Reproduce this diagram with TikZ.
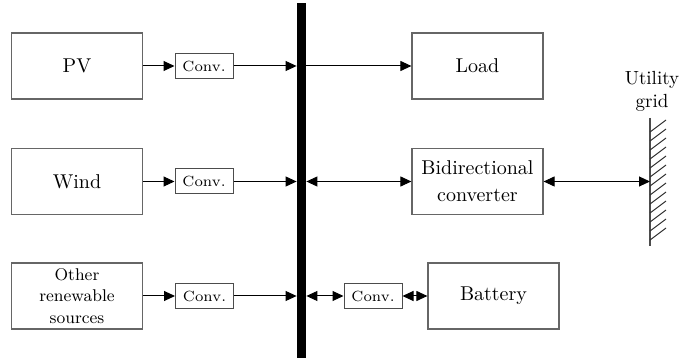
\documentclass[tikz,border=0pt]{standalone}
\usetikzlibrary{arrows.meta}

\tikzset{
    blockbox/.style={draw=black!60, line width=0.6pt, minimum width=65.5pt, minimum height=33pt,
        inner sep=0pt, align=center, font=\fontsize{10}{13.5}\selectfont},
    convbox/.style={draw=black!70, line width=0.5pt, minimum width=29pt, minimum height=12.5pt,
        inner sep=0pt, font=\fontsize{7.4}{9}\selectfont},
    flow/.style={line width=0.5pt, -{Triangle[length=5.5pt,width=5pt]}},
    biflow/.style={line width=0.5pt, {Triangle[length=5.5pt,width=5pt]}-{Triangle[length=5.5pt,width=5pt]}},
}

\begin{document}
\begin{tikzpicture}[x=0.5pt, y=-0.5pt]
        \useasboundingbox (0,0) rectangle (680,363);

        % DC bus
        \node[fill=black, minimum width=4.5pt, minimum height=177.5pt, inner sep=0pt] (bus) at (301.5,180.5) {};

        % Sources
        \node[blockbox] (pv) at (77,66) {PV};
        \node[blockbox] (wind) at (77,181.5) {Wind};
        \node[blockbox, font=\fontsize{8.5}{10.8}\selectfont] (other) at (77,296) {Other\\renewable\\sources};

        % Converters
        \node[convbox] (conv1) at (204,66) {Conv.};
        \node[convbox] (conv2) at (204,181.5) {Conv.};
        \node[convbox] (conv3) at (204.5,296) {Conv.};
        \node[convbox] (conv4) at (373,296) {Conv.};

        % Loads and storage
        \node[blockbox] (load) at (477.5,66) {Load};
        \node[blockbox] (bidir) at (477.5,181.5) {Bidirectional\\converter};
        \node[blockbox] (battery) at (493.5,296) {Battery};

        % Utility grid
        \coordinate (gridtop) at (650,118);
        \coordinate (gridbot) at (650,246);
        \draw[black!70, line width=0.6pt] (gridtop) -- (gridbot);
        \foreach \y in {132,141,...,240}
            \draw[black!80, line width=0.5pt] (650,\y) -- ++(16,-12);
        \node[align=center, font=\fontsize{9.5}{11.5}\selectfont] (gridlabel) at (652,91) {Utility\\grid};

        % Power flows
        \draw[flow] (pv) -- (conv1);
        \draw[flow] (conv1) -- (conv1 -| bus.west);
        \draw[flow] (conv1 -| bus.east) -- (load);

        \draw[flow] (wind) -- (conv2);
        \draw[flow] (conv2) -- (conv2 -| bus.west);
        \draw[biflow] (bidir -| bus.east) -- (bidir);
        \draw[biflow] (bidir) -- (bidir -| gridtop);

        \draw[flow] (other) -- (conv3);
        \draw[flow] (conv3) -- (conv3 -| bus.west);
        \draw[biflow] (conv4 -| bus.east) -- (conv4);
        \draw[biflow] (conv4) -- (battery);
\end{tikzpicture}
\end{document}
